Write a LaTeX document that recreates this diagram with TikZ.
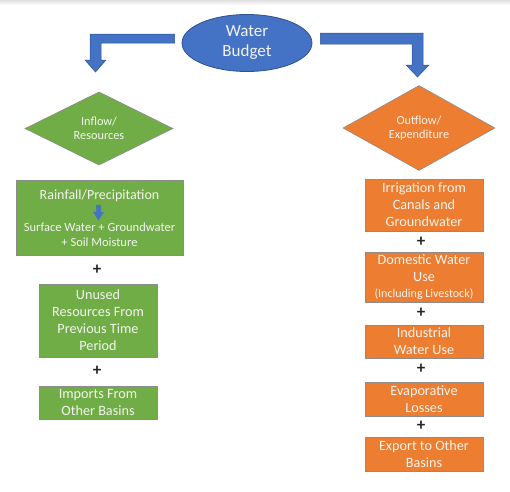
\documentclass[tikz,border=0pt]{standalone}
\usepackage{fontspec}
\setmainfont{Carlito}
\usetikzlibrary{shapes.geometric,calc}
\definecolor{obBlue}{HTML}{4472C4}
\definecolor{obBlueDark}{HTML}{2F528F}
\definecolor{obGreen}{HTML}{70AD47}
\definecolor{obOrange}{HTML}{ED7D31}
\definecolor{boxEdge}{HTML}{8C8C8C}
\definecolor{txtLight}{HTML}{F4F4EE}
\tikzset{
  gbox/.style={draw=boxEdge, line width=0.8pt, fill=obGreen, text=txtLight, align=center,
    inner sep=0pt, font=\fontsize{14.2}{17}\selectfont},
  obox/.style={draw=boxEdge, line width=0.8pt, fill=obOrange, text=txtLight, align=center,
    inner sep=0pt, font=\fontsize{14.2}{17}\selectfont},
  dmd/.style={diamond, draw=boxEdge, line width=0.6pt, text=txtLight, align=center,
    inner sep=0pt, font=\fontsize{12.3}{14}\selectfont},
  plussign/.style={font=\fontsize{17}{17}\selectfont\bfseries, text=black!85, inner sep=0pt},
  blockarrow/.style={fill=obBlue, draw=obBlueDark, line width=0.5pt},
}
\begin{document}
\begin{tikzpicture}[x=1pt,y=-1pt]
\useasboundingbox (0,0) rectangle (510,491);
\shade[top color=black!12, bottom color=white] (0,0) rectangle (510,5);

% top ellipse
\node[ellipse, draw=obBlueDark, line width=0.8pt, fill=obBlue, text=txtLight, align=center,
  minimum width=130pt, minimum height=57pt, inner sep=0pt,
  font=\fontsize{17}{20}\selectfont] (budget) at (247,43) {Water\\Budget};

% block arrows
\draw[blockarrow] ($(budget.west)+(-7,-9)$) -- (90,34) -- (90,60) -- (85,60) -- (95.5,72)
  -- (106,60) -- (101,60) -- (101,43) -- ($(budget.west)+(-7,0)$) -- cycle;
\draw[blockarrow] ($(budget.east)+(8,-10)$) -- (423,33) -- (423,65) -- (429,65) -- (417.5,77)
  -- (406,65) -- (412,65) -- (412,44) -- ($(budget.east)+(8,1)$) -- cycle;

% diamonds
\node[dmd, fill=obGreen, minimum width=148pt, minimum height=73pt] (inflow) at (99,128.5) {Inflow/\\Resources};
\node[dmd, fill=obOrange, minimum width=152pt, minimum height=76pt] (outflow) at (419,128) {Outflow/\\Expenditure};

% left column
\node[gbox, minimum width=167pt, minimum height=75pt] (g1) at (99.5,217.5) {};
\node[text=txtLight, font=\fontsize{14}{14}\selectfont, inner sep=0pt] (g1a) at (99.5,196) {Rainfall/Precipitation};
\draw[blockarrow, draw=obBlue] (96.5,205) -- (100.5,205) -- (100.5,212) -- (103.5,212) -- (98.5,220)
  -- (93.5,212) -- (96.5,212) -- cycle;
\node[text=txtLight, align=center, font=\fontsize{12.5}{15}\selectfont, inner sep=0pt] (g1b) at (99.5,234.5)
  {Surface Water + Groundwater\\+ Soil Moisture};

\node[plussign] (pg1) at (97,270) {+};
\node[gbox, minimum width=118pt, minimum height=73pt] (g2) at (98,320.5) {Unused\\Resources From\\Previous Time\\Period};
\node[plussign] (pg2) at (97,371) {+};
\node[gbox, minimum width=118pt, minimum height=33pt] (g3) at (98,402.5) {Imports From\\Other Basins};

% right column
\node[obox, minimum width=118pt, minimum height=52pt] (o1) at (424,205) {Irrigation from\\Canals and\\Groundwater};
\node[plussign] (po1) at (421,242) {+};
\node[obox, minimum width=118pt, minimum height=50pt] (o2) at (424,277)
  {Domestic Water\\Use\\[-1pt]{\fontsize{12}{13}\selectfont (Including Livestock)}};
\node[plussign] (po2) at (421,313) {+};
\node[obox, minimum width=118pt, minimum height=33pt] (o3) at (424,341.5) {Industrial\\Water Use};
\node[plussign] (po3) at (421,369) {+};
\node[obox, minimum width=118pt, minimum height=34pt] (o4) at (424,399) {Evaporative\\Losses};
\node[plussign] (po4) at (421,426) {+};
\node[obox, minimum width=118pt, minimum height=34pt] (o5) at (424,454) {Export to Other\\Basins};
\end{tikzpicture}
\end{document}
